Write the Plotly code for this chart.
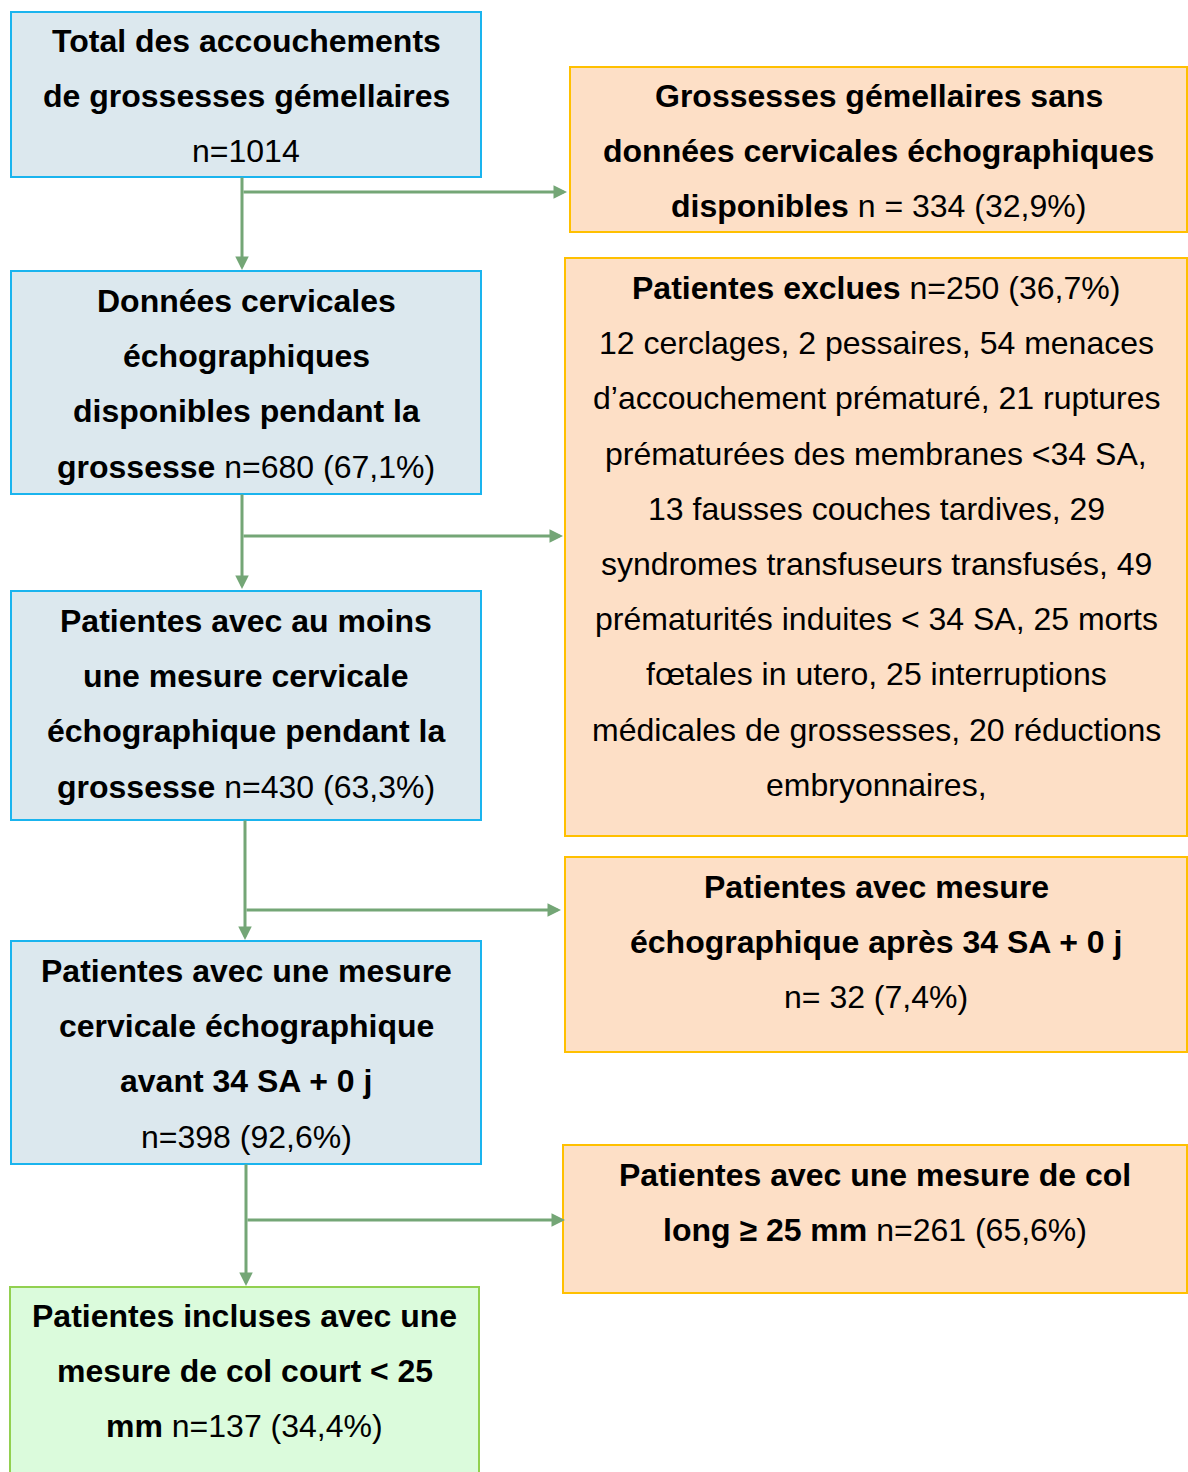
import plotly.graph_objects as go

# ---- content (text of each box, line by line) ----
box_total = ["<b>Total des accouchements</b>", "<b>de grossesses gémellaires</b>", "n=1014"]
box_sans = ["<b>Grossesses gémellaires sans</b>", "<b>données cervicales échographiques</b>",
            "<b>disponibles</b> n = 334 (32,9%)"]
box_dispo = ["<b>Données cervicales</b>", "<b>échographiques</b>", "<b>disponibles pendant la</b>",
             "<b>grossesse</b> n=680 (67,1%)"]
box_exclues = ["<b>Patientes exclues</b> n=250 (36,7%)",
               "12 cerclages, 2 pessaires, 54 menaces",
               "d’accouchement prématuré, 21 ruptures",
               "prématurées des membranes &lt;34 SA,",
               "13 fausses couches tardives, 29",
               "syndromes transfuseurs transfusés, 49",
               "prématurités induites &lt; 34 SA, 25 morts",
               "fœtales in utero, 25 interruptions",
               "médicales de grossesses, 20 réductions",
               "embryonnaires,"]
box_au_moins = ["<b>Patientes avec au moins</b>", "<b>une mesure cervicale</b>",
                "<b>échographique pendant la</b>", "<b>grossesse</b> n=430 (63,3%)"]
box_apres = ["<b>Patientes avec mesure</b>", "<b>échographique après 34 SA + 0 j</b>", "n= 32 (7,4%)"]
box_avant = ["<b>Patientes avec une mesure</b>", "<b>cervicale échographique</b>",
             "<b>avant 34 SA + 0 j</b>", "n=398 (92,6%)"]
box_long = ["<b>Patientes avec une mesure de col</b>", "<b>long ≥ 25 mm</b> n=261 (65,6%)"]
box_incluses = ["<b>Patientes incluses avec une</b>", "<b>mesure de col court &lt; 25</b>",
                "<b>mm</b> n=137 (34,4%)"]

# ---- layout (pixel geometry, page coordinates) ----
PAGE_W, PAGE_H = 1188, 1472
BLUE_FILL, BLUE_LINE = "#DCE8EE", "#1AB4EE"
ORANGE_FILL, ORANGE_LINE = "#FDDFC6", "#FFC000"
GREEN_FILL, GREEN_LINE = "#DBFBDC", "#92D050"
ARROW = "#74A676"

boxes = [
    # (lines, x0, y0, x1, y1, first_line_y, fill, line)
    (box_total, 11, 12, 481, 177, 41, BLUE_FILL, BLUE_LINE),
    (box_sans, 570, 67, 1187, 232, 96, ORANGE_FILL, ORANGE_LINE),
    (box_dispo, 11, 271, 481, 494, 301, BLUE_FILL, BLUE_LINE),
    (box_exclues, 565, 258, 1187, 836, 288, ORANGE_FILL, ORANGE_LINE),
    (box_au_moins, 11, 591, 481, 820, 621, BLUE_FILL, BLUE_LINE),
    (box_apres, 565, 857, 1187, 1052, 887, ORANGE_FILL, ORANGE_LINE),
    (box_avant, 11, 941, 481, 1164, 971, BLUE_FILL, BLUE_LINE),
    (box_long, 563, 1145, 1187, 1293, 1175, ORANGE_FILL, ORANGE_LINE),
    (box_incluses, 10, 1287, 479, 1490, 1316, GREEN_FILL, GREEN_LINE),
]
LINE_STEP = 55.2

# arrows: (x_tail, y_tail, x_head, y_head)
arrows = [
    (242, 176, 242, 270), (242, 192, 567, 192),
    (242, 493, 242, 589), (242, 536, 563, 536),
    (245, 819, 245, 940), (245, 910, 561, 910),
    (246, 1163, 246, 1286), (246, 1220, 565, 1220),
]

fig = go.Figure()
shapes, annotations = [], []
for lines, x0, y0, x1, y1, ly, fill, lc in boxes:
    shapes.append(dict(type="rect", xref="x", yref="y", x0=x0, y0=y0, x1=x1, y1=y1,
                       fillcolor=fill, line=dict(color=lc, width=2), layer="below"))
    cx = (x0 + min(x1, 1188)) / 2
    for i, t in enumerate(lines):
        annotations.append(dict(x=cx, y=ly + i * LINE_STEP, xref="x", yref="y", text=t,
                                showarrow=False, xanchor="center", yanchor="middle",
                                font=dict(family="Liberation Sans, Arial, sans-serif",
                                          size=32, color="black")))
for xt, yt, xh, yh in arrows:
    annotations.append(dict(x=xh, y=yh, ax=xt, ay=yt, xref="x", yref="y", axref="x", ayref="y",
                            text="", showarrow=True, arrowhead=2, arrowsize=0.9,
                            arrowwidth=3, arrowcolor=ARROW, standoff=0, startstandoff=0))

fig.update_layout(width=PAGE_W, height=PAGE_H, margin=dict(l=0, r=0, t=0, b=0),
                  paper_bgcolor="white", plot_bgcolor="white",
                  shapes=shapes, annotations=annotations, showlegend=False,
                  xaxis=dict(range=[0, PAGE_W], visible=False, fixedrange=True),
                  yaxis=dict(range=[PAGE_H, 0], visible=False, fixedrange=True))
fig.write_html("out.html",
               config={"displayModeBar": False, "staticPlot": True},
               post_script="document.body.style.margin='0';document.body.style.overflow='hidden';")
